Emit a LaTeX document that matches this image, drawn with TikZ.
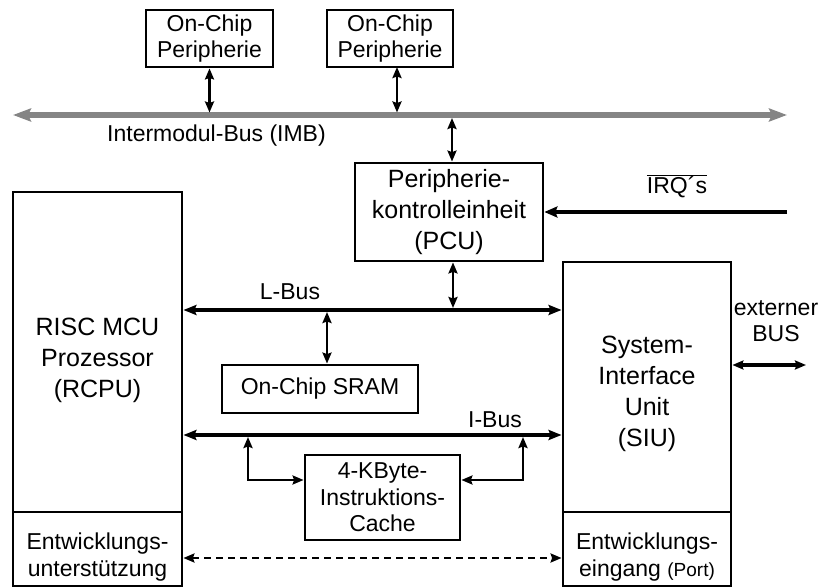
\documentclass[tikz,border=0pt]{standalone}
\usepackage{fontspec}
\setmainfont{Liberation Sans}
\usetikzlibrary{arrows.meta}

\begin{document}
\begin{tikzpicture}[x=1pt,y=-1pt,
  box/.style={draw, line width=2.8pt, inner sep=0pt, align=center},
  big/.style={font=\fontsize{25}{31}\selectfont, align=center, inner sep=0pt},
  small/.style={font=\fontsize{23}{26.5}\selectfont, align=center, inner sep=0pt},
  link/.style={line width=2.6pt,
    {Stealth[length=11pt,width=9pt,inset=1.5pt]}-{Stealth[length=11pt,width=9pt,inset=1.5pt]}},
  bus/.style={line width=4pt,
    {Stealth[length=13pt,width=10pt,inset=2pt]}-{Stealth[length=13pt,width=10pt,inset=2pt]}},
  feed/.style={line width=4.2pt, -{Stealth[length=13pt,width=11pt,inset=2pt]}},
  imb/.style={line width=5.5pt, draw=imbgray,
    {Stealth[length=18pt,width=13pt,inset=3pt]}-{Stealth[length=18pt,width=13pt,inset=3pt]}},
]
\definecolor{imbgray}{RGB}{133,133,133}
\useasboundingbox (0,0) rectangle (823,588);

% --- Intermodule bus and the on-chip peripherals ---
\node[box, small, minimum width=127pt, minimum height=57pt] (p1) at (209.5,38.5) {On-Chip\\Peripherie};
\node[box, small, minimum width=126pt, minimum height=57pt] (p2) at (390,38.5) {On-Chip\\Peripherie};
\coordinate (imbL) at (13,115);
\coordinate (imbR) at (787,115);
\draw[imb] (imbL) -- (imbR);
\node[small, anchor=west] (imbt) at (107,136) {Intermodul-Bus (IMB)};

\coordinate (p2a) at (397,67);
\draw[link] (p1.south) -- (p1.south |- 0,112.5);
\draw[link] (p2a) -- (p2a |- 0,112.5);

% --- Peripheral control unit ---
\node[box, big, minimum width=188pt, minimum height=98pt] (pcu) at (449,212) {Peripherie-\\kontrolleinheit\\(PCU)};
\coordinate (imbtap) at (452,118);
\draw[link] (imbtap) -- (imbtap |- pcu.north);

\coordinate (irq) at (787,212);
\draw[feed] (irq) -- (irq -| pcu.east);
\node[small] (irqt) at (677,186) {$\overline{\hbox{IRQ´s}}$};

% --- CPU and system interface unit ---
\node[box, minimum width=169pt, minimum height=320pt] (rcpu) at (97.5,352) {};
\node[box, minimum width=169pt, minimum height=74pt] (rcpudev) at (97.5,549) {};
\node[big] (rcput) at (97.5,360) {RISC MCU\\Prozessor\\(RCPU)};
\node[small] (rcpudevt) at (97.5,557) {Entwicklungs-\\unterstützung};

\node[box, minimum width=168pt, minimum height=250pt] (siu) at (647,387) {};
\node[box, minimum width=168pt, minimum height=74pt] (siudev) at (647,549) {};
\node[big] (siut) at (647,394) {System-\\Interface\\Unit\\(SIU)};
\node[small] (siudevt) at (647,557) {Entwicklungs-\\eingang {\fontsize{19}{22}\selectfont(Port)}};

% --- L-Bus with SRAM ---
\draw[bus] (rcpu.east |- 0,310) -- (siu.west |- 0,310);
\node[small] (lbus) at (290,292) {L-Bus};
\coordinate (pcuL) at (453,308);
\draw[link] (pcuL |- pcu.south) -- (pcuL);

\node[box, small, minimum width=196pt, minimum height=48pt] (sram) at (320,389) {On-Chip SRAM};
\coordinate (sramL) at (327,312);
\draw[link] (sramL) -- (sramL |- sram.north);

% --- I-Bus with instruction cache ---
\draw[bus] (rcpu.east |- 0,435) -- (siu.west |- 0,435);
\node[small] (ibus) at (495,420) {I-Bus};

\node[box, small, minimum width=155pt, minimum height=85pt] (cache) at (382.5,497.5) {4-KByte-\\Instruktions-\\Cache};
\coordinate (cl) at (248,480);
\coordinate (cr) at (523,480);
\draw[link] (cl |- 0,437) -- (cl) -- (cl -| cache.west);
\draw[link] (cr |- 0,437) -- (cr) -- (cr -| cache.east);

% --- development port link ---
\draw[link, dash pattern=on 7pt off 5pt] (rcpudev.east |- 0,558) -- (siudev.west |- 0,558);

% --- external bus ---
\node[small] (ext) at (776,321) {externer\\BUS};
\coordinate (extR) at (806,365);
\draw[link, line width=3.2pt] (siu.east |- extR) -- (extR);

\end{tikzpicture}
\end{document}
